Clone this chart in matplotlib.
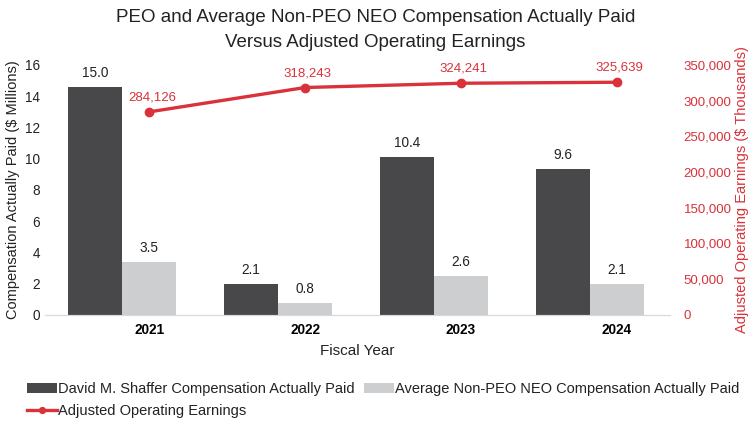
import matplotlib.pyplot as plt
import numpy as np

plt.rcParams['font.family'] = ['Liberation Sans', 'DejaVu Sans']

# data
years = ['2021', '2022', '2023', '2024']
ceo_paid = [14.6, 2.0, 10.1, 9.35]          # bar heights ($ Millions)
ceo_labels = ['15.0', '2.1', '10.4', '9.6']
neo_paid = [3.4, 0.77, 2.5, 2.0]
neo_labels = ['3.5', '0.8', '2.6', '2.1']
op_earnings = [284126, 318243, 324241, 325639]  # $ Thousands

dark = '#48484a'
light = '#cdcecf'
red = '#d9323a'
txt = '#222222'

fig = plt.figure(figsize=(7.51, 4.21), dpi=100)
ax = fig.add_axes([0.06, 0.252, 0.832, 0.594])
ax2 = ax.twinx()

x = np.arange(len(years))
w = 0.346
b1 = ax.bar(x - w, ceo_paid, w, color=dark, label='David M. Shaffer Compensation Actually Paid')
b2 = ax.bar(x, neo_paid, w, color=light, label='Average Non-PEO NEO Compensation Actually Paid')

for bars, labs in [(b1, ceo_labels), (b2, neo_labels)]:
    for r, t in zip(bars, labs):
        ax.annotate(t, (r.get_x() + r.get_width() / 2, r.get_height()),
                    xytext=(0, 5), textcoords='offset points',
                    ha='center', va='bottom', fontsize=9.8, color=txt)

ln, = ax2.plot(x, op_earnings, color=red, lw=2.4, marker='o', ms=6,
               label='Adjusted Operating Earnings')
for xi, v in zip(x, op_earnings):
    ax2.annotate(f'{v:,}', (xi, v), xytext=(2, 6), textcoords='offset points',
                 ha='center', va='bottom', fontsize=9.5, color=red)

ax.set_xlim(-0.667, 3.34)
ax.set_ylim(0, 16)
ax.set_yticks(range(0, 17, 2))
ax2.set_ylim(0, 350000)
ax2.set_yticks(range(0, 350001, 50000))
ax2.yaxis.set_major_formatter(plt.FuncFormatter(lambda v, p: f'{int(v):,}'))

ax.set_xticks(x)
ax.set_xticklabels(years, fontweight='bold', fontsize=9.8)
ax.tick_params(axis='x', length=0, pad=6)
ax.tick_params(axis='y', length=0, labelsize=9.8, colors=txt)
ax2.tick_params(axis='y', length=0, labelsize=9.5, colors=red, pad=10)

for a in (ax, ax2):
    for s in ['top', 'left', 'right']:
        a.spines[s].set_visible(False)
    a.spines['bottom'].set_color('#d9d9d9')

ax.set_xlabel('Fiscal Year', fontsize=11, labelpad=5, color=txt)
ax.set_ylabel('Compensation Actually Paid ($ Millions)', fontsize=10.5, labelpad=4, color=txt)
ax2.set_ylabel('Adjusted Operating Earnings ($ Thousands)', fontsize=10.5, color=red, labelpad=2)

fig.text(0.5, 1 - 9 / 421,
         'PEO and Average Non-PEO NEO Compensation Actually Paid\nVersus Adjusted Operating Earnings',
         ha='center', va='top', fontsize=13.5, color=txt, linespacing=1.6)

fig.legend([b1, ln, b2], [b1.get_label(), ln.get_label(), b2.get_label()],
           loc='upper left', bbox_to_anchor=(0.036, 0.092), ncol=2, frameon=False,
           fontsize=10.5, handlelength=2.05, handletextpad=0.05, columnspacing=0.7,
           labelspacing=0.55, borderaxespad=0, borderpad=0, labelcolor=txt,
           markerscale=0.7)

fig.savefig('out.png', dpi=100)
